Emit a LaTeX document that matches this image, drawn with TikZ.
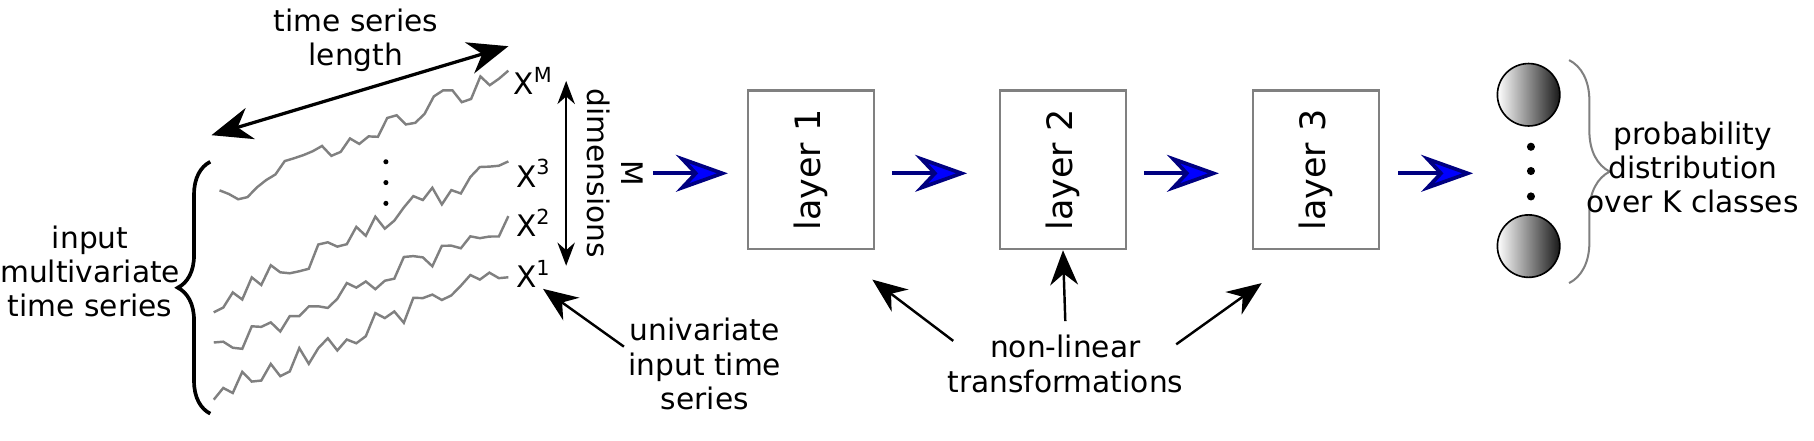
\documentclass[tikz,border=0pt]{standalone}
\usepackage{fontspec}
\setmainfont{DejaVu Sans}
\usetikzlibrary{arrows.meta,decorations.pathreplacing}

\tikzset{
    txt/.style={align=center, font=\fontsize{7.3}{8.4}\selectfont},
    layerbox/.style={draw=gray, line width=0.6pt, minimum width=1.09cm, minimum height=1.37cm},
    flow/.style={draw=blue!50!black, line width=0.9pt, -{Stealth[length=4.5mm,width=3.2mm,fill=blue,inset=1.5mm]}},
    note/.style={-{Stealth[length=3mm,width=2.4mm]}, line width=0.6pt},
    series/.style={gray, line width=0.6pt},
    unit/.style={circle, draw, minimum size=0.54cm, left color=white, right color=black!90}
}

\begin{document}
\begin{tikzpicture}[x=0.01cm, y=-0.01cm]
    \useasboundingbox (0,0) rectangle (1570,381);
    \pgfmathsetseed{7}

    % time series
    \foreach \xa/\ya/\yb in {190/172/62, 185/262/140, 185/305/192, 185/340/232} {
        \draw[series] plot[domain=0:1, samples=32, variable=\t]
            ({\xa+\t*(440-\xa)}, {\ya+\t*(\yb-\ya)+rnd*20-10});
    }
    \foreach \yy in {140,158,176} \fill (334,\yy) circle (2.2);

    \node[txt] (xm) at (462,70) {X\textsuperscript{M}};
    \node[txt] (x3) at (462,150) {X\textsuperscript{3}};
    \node[txt] (x2) at (462,193) {X\textsuperscript{2}};
    \node[txt] (x1) at (462,237) {X\textsuperscript{1}};

    \node[txt] (len) at (308,35) {time series\\length};
    \coordinate (lenA) at (183,117);
    \coordinate (lenB) at (440,40);
    \draw[{Stealth[length=3.5mm,width=2.8mm]}-{Stealth[length=3.5mm,width=2.8mm]}, line width=0.8pt] (lenA) -- (lenB);

    \coordinate (dimA) at (490,70);
    \coordinate (dimB) at (490,230);
    \draw[{Stealth[length=2mm]}-{Stealth[length=2mm]}, line width=0.6pt] (dimA) -- (dimB);
    \node[txt, rotate=-90] (dim) at (532,150) {M\\dimensions};

    \draw[decorate, decoration={brace, amplitude=8pt}, line width=0.9pt] (182,358) -- (182,140);
    \node[txt] (input) at (78,235) {input\\multivariate\\time series};

    % layers
    \node[layerbox] (l1) at (702,147) {};
    \node[layerbox] (l2) at (920,147) {};
    \node[layerbox] (l3) at (1139,147) {};
    \foreach \i in {1,2,3} \node[txt, font=\fontsize{8.6}{10}\selectfont, rotate=90] at (l\i) {layer \i};

    \foreach \xa in {565,772,990,1210} \draw[flow] (\xa,150) -- ++(65,0);

    % output
    \node[unit] (c1) at (1323,82) {};
    \node[unit] (c2) at (1323,213) {};
    \foreach \yy in {127,148,170} \fill (1325,\yy) circle (3.5);
    \draw[decorate, decoration={brace, amplitude=10pt}, gray, line width=0.5pt] (1358,52) -- (1358,245);
    \node[txt] (prob) at (1465,145) {probability\\distribution\\over K classes};

    % notes
    \node[txt] (uni) at (610,315) {univariate\\input time\\series};
    \draw[note] (540,300) -- (470,250);
    \node[txt] (nonlin) at (922,315) {non-linear\\transformations};
    \draw[note] (825,295) -- (755,242);
    \draw[note] (nonlin.north) -- (l2.south);
    \draw[note] (1018,298) -- (1092,245);
\end{tikzpicture}
\end{document}
